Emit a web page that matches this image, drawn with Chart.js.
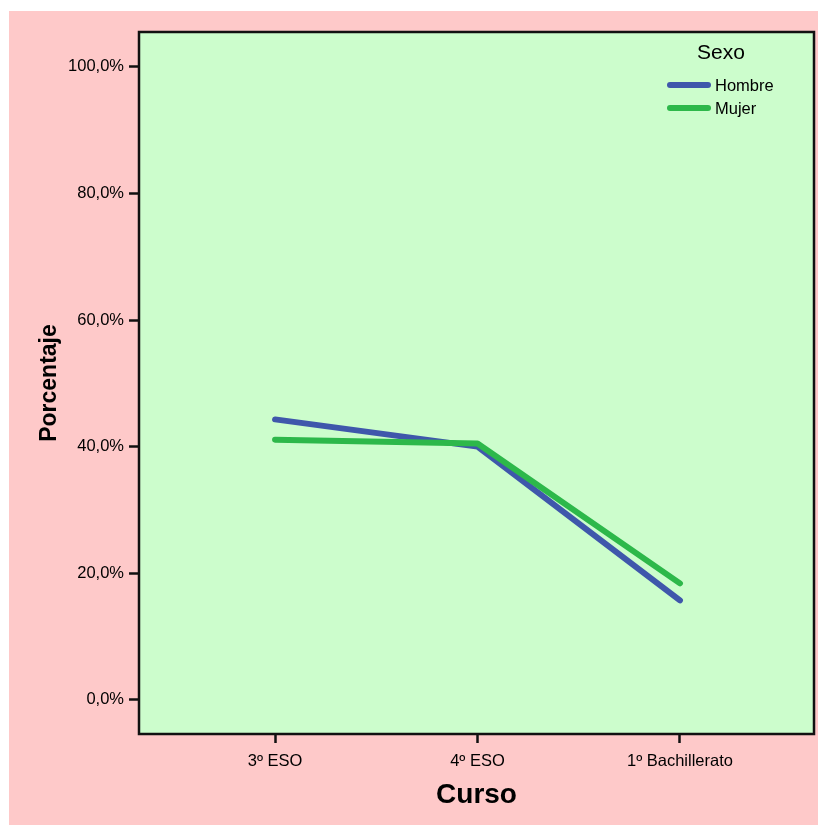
<!DOCTYPE html>
<html>
<head>
<meta charset="utf-8">
<script src="https://cdn.jsdelivr.net/npm/chart.js@4.4.1/dist/chart.umd.min.js"></script>
<style>
  html, body { margin: 0; padding: 0; background: #ffffff; }
  #wrap { position: absolute; left: 9px; top: 11px; width: 809px; height: 814px; background: #fec9c9; }
  canvas { display: block; }
</style>
</head>
<body>
<div id="wrap"><canvas id="c" width="809" height="814"></canvas></div>
<script>
// Courses on the x axis
const cursos = ['3º ESO', '4º ESO', '1º Bachillerato'];
// Percentage of each sex in each course
const hombre = [44.3, 40.0, 15.7];
const mujer = [41.1, 40.5, 18.4];
// Y axis tick values (percent)
const yTicks = [0, 20, 40, 60, 80, 100];

const FONT = "Arial, 'Liberation Sans', Helvetica, sans-serif";
const BLUE = '#3f57ab';
const GREEN = '#2db84a';

const toPoints = arr => arr.map((v, i) => ({ x: i, y: v }));

// Plot background, frame and in-plot legend
const framePlugin = {
  id: 'frame',
  beforeDraw(chart) {
    const { ctx, chartArea: a } = chart;
    ctx.save();
    ctx.fillStyle = '#ccfdcc';
    ctx.fillRect(a.left, a.top, a.right - a.left, a.bottom - a.top);
    ctx.restore();
  },
  afterDraw(chart) {
    const { ctx, chartArea: a } = chart;
    ctx.save();
    ctx.strokeStyle = '#111';
    ctx.lineWidth = 2.5;
    ctx.strokeRect(a.left, a.top, a.right - a.left, a.bottom - a.top);

    // legend
    ctx.fillStyle = '#000';
    ctx.textAlign = 'center';
    ctx.textBaseline = 'middle';
    ctx.font = '21px ' + FONT;
    ctx.fillText('Sexo', 712, 42);
    ctx.font = '16.5px ' + FONT;
    ctx.textAlign = 'left';
    chart.data.datasets.forEach((ds, i) => {
      const y = 74 + i * 23;
      ctx.strokeStyle = ds.borderColor;
      ctx.lineWidth = 6;
      ctx.lineCap = 'round';
      ctx.beginPath();
      ctx.moveTo(661, y);
      ctx.lineTo(699, y);
      ctx.stroke();
      ctx.fillText(ds.label, 706, y + 1);
    });
    ctx.restore();
  }
};

new Chart(document.getElementById('c'), {
  type: 'line',
  data: {
    datasets: [
      { label: 'Hombre', data: toPoints(hombre), borderColor: BLUE, order: 1 },
      { label: 'Mujer', data: toPoints(mujer), borderColor: GREEN, order: 0 }
    ]
  },
  options: {
    responsive: false,
    animation: false,
    layout: { padding: { top: 21, right: 4, left: 0, bottom: 0 } },
    elements: {
      line: { borderWidth: 6, tension: 0, borderCapStyle: 'round', borderJoinStyle: 'round', fill: false },
      point: { radius: 0, hoverRadius: 0 }
    },
    plugins: { legend: { display: false }, tooltip: { enabled: false } },
    scales: {
      x: {
        type: 'linear',
        min: -0.672,
        max: 2.662,
        afterBuildTicks: s => { s.ticks = cursos.map((_, i) => ({ value: i })); },
        afterFit: s => { s.height = 91; },
        grid: { drawOnChartArea: false, drawTicks: true, tickLength: 9, tickWidth: 2.5, tickColor: '#111' },
        border: { display: false },
        ticks: {
          color: '#000',
          padding: 9,
          maxRotation: 0,
          autoSkip: false,
          font: { family: FONT, size: 16.5 },
          callback: v => cursos[v]
        },
        title: {
          display: true,
          text: 'Curso',
          color: '#000',
          font: { family: FONT, size: 28, weight: 'bold' },
          padding: { top: 0, bottom: 13 }
        }
      },
      y: {
        type: 'linear',
        min: -5.4,
        max: 105.5,
        afterBuildTicks: s => { s.ticks = yTicks.map(v => ({ value: v })); },
        afterFit: s => { s.width = 130; },
        grid: { drawOnChartArea: false, drawTicks: true, tickLength: 10, tickWidth: 2.5, tickColor: '#111' },
        border: { display: false },
        ticks: {
          color: '#000',
          padding: 5,
          font: { family: FONT, size: 16.5 },
          callback: v => v.toFixed(1).replace('.', ',') + '%'
        },
        title: {
          display: true,
          text: 'Porcentaje',
          color: '#000',
          font: { family: FONT, size: 23, weight: 'bold' },
          padding: { top: 27, bottom: 0 }
        }
      }
    }
  },
  plugins: [framePlugin]
});
</script>
</body>
</html>
